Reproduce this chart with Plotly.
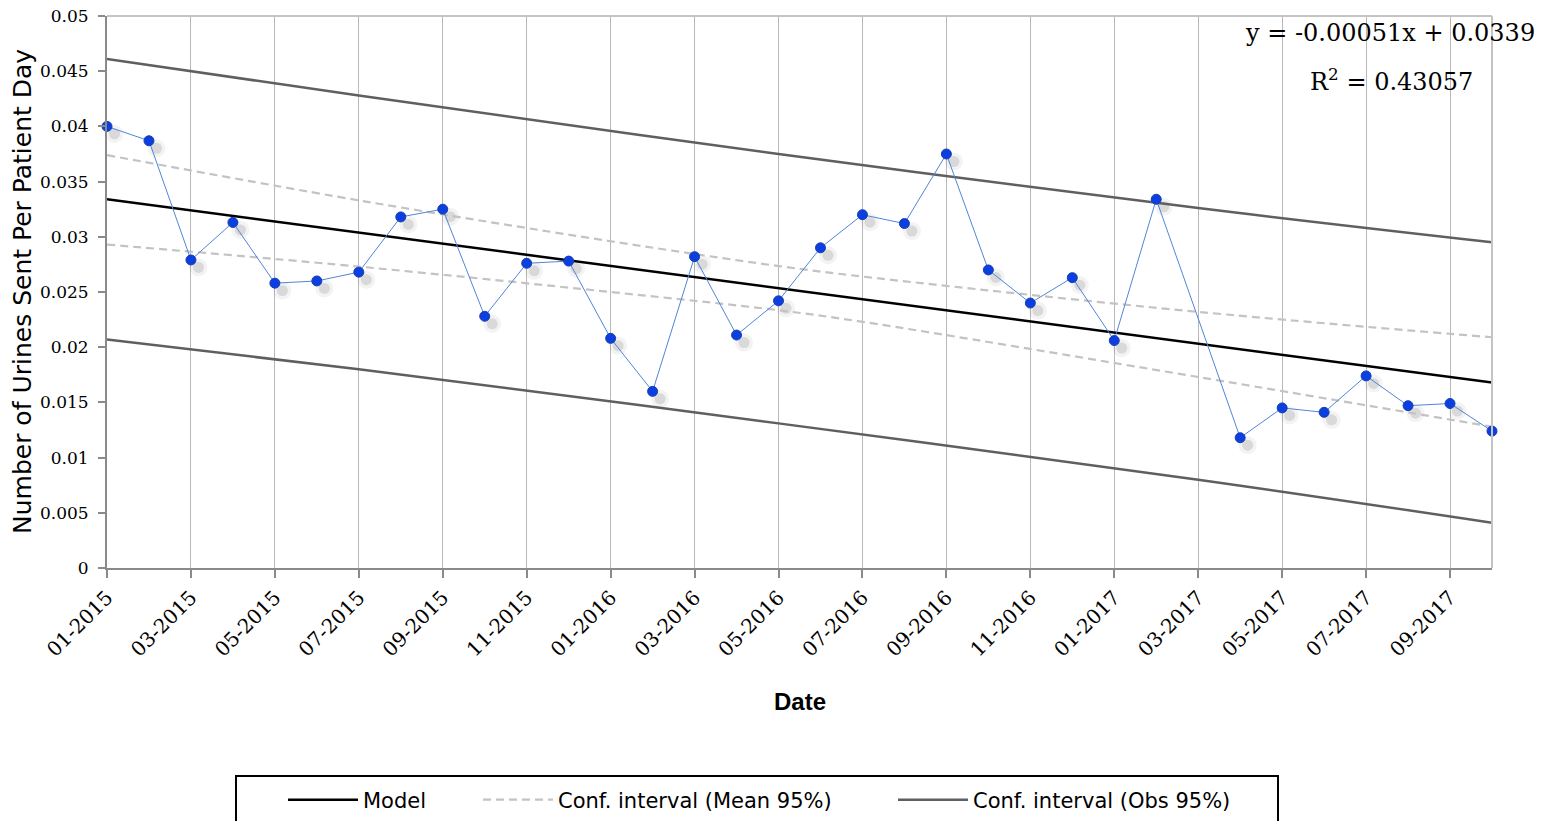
import plotly.graph_objects as go

# ---------------- data ----------------
months = ["01-2015", "02-2015", "03-2015", "04-2015", "05-2015", "06-2015",
          "07-2015", "08-2015", "09-2015", "10-2015", "11-2015", "12-2015",
          "01-2016", "02-2016", "03-2016", "04-2016", "05-2016", "06-2016",
          "07-2016", "08-2016", "09-2016", "10-2016", "11-2016", "12-2016",
          "01-2017", "02-2017", "03-2017", "04-2017", "05-2017", "06-2017",
          "07-2017", "08-2017", "09-2017", "10-2017"]

rate = [0.0400, 0.0387, 0.0279, 0.0313, 0.0258, 0.0260, 0.0268, 0.0318,
        0.0325, 0.0228, 0.0276, 0.0278,
        0.0208, 0.0160, 0.0282, 0.0211, 0.0242, 0.0290, 0.0320, 0.0312,
        0.0375, 0.0270, 0.0240, 0.0263,
        0.0206, 0.0334, None, 0.0118, 0.0145, 0.0141, 0.0174, 0.0147,
        0.0149, 0.0124]

model_months = ["01-2015", "10-2017"]
model_vals = [0.0334, 0.0168]

mean_ci_months = ["01-2015", "07-2015", "01-2016", "05-2016", "07-2016", "03-2017", "10-2017"]
mean_ci_upper = [0.0374, 0.0333, 0.0296, 0.02735, 0.0264, 0.0232, 0.0209]
mean_ci_lower = [0.0293, 0.0273, 0.0250, 0.02335, 0.0223, 0.0173, 0.0128]

obs_ci_months = ["01-2015", "07-2015", "05-2016", "03-2017", "10-2017"]
obs_ci_upper = [0.0461, 0.0428, 0.0375, 0.0326, 0.0295]
obs_ci_lower = [0.0207, 0.0180, 0.0131, 0.0080, 0.0041]

y_tick_vals = [0, 0.005, 0.01, 0.015, 0.02, 0.025, 0.03, 0.035, 0.04, 0.045, 0.05]
y_tick_text = ["0", "0.005", "0.01", "0.015", "0.02", "0.025", "0.03", "0.035", "0.04", "0.045", "0.05"]

equation_text = "y = -0.00051x + 0.0339"
r2_text = "R<sup>2</sup> = 0.43057"

# ---------------- layout geometry ----------------
W, H = 1549, 821
L, R, T, B = 107, 57, 16, 253
plot_w = W - L - R
plot_h = H - T - B

pos = {m: i for i, m in enumerate(months)}
X = [pos[m] for m in months]
x_max = len(months) - 1
y_max = 0.05

# shadow offset (pixels -> data units on the hidden primary axes)
sh_px = 7.5
sx = sh_px / (plot_w / x_max)
sy = sh_px / (plot_h / y_max)

def px_x(p):
    return (p - L) / plot_w

def px_y(p):
    return (H - B - p) / plot_h

SERIF = "DejaVu Serif"
SANS = "DejaVu Sans"

fig = go.Figure()

# marker shadows on hidden, shifted primary axes
fig.add_trace(go.Scatter(x=X, y=rate, mode="markers", xaxis="x", yaxis="y",
                         marker=dict(size=18, color="rgba(80,80,80,0.07)"),
                         showlegend=False, hoverinfo="skip", cliponaxis=False))
fig.add_trace(go.Scatter(x=X, y=rate, mode="markers", xaxis="x", yaxis="y",
                         marker=dict(size=11, color="rgba(80,80,80,0.16)"),
                         showlegend=False, hoverinfo="skip", cliponaxis=False))

# regression lines (visible overlay axes)
fig.add_trace(go.Scatter(x=[pos[m] for m in model_months], y=model_vals,
                         mode="lines", xaxis="x2", yaxis="y2",
                         line=dict(color="#000000", width=2.5),
                         name="Model", showlegend=True, legend="legend",
                         cliponaxis=False))
fig.add_trace(go.Scatter(x=[pos[m] for m in mean_ci_months], y=mean_ci_upper,
                         mode="lines", xaxis="x2", yaxis="y2",
                         line=dict(color="#C3C3C3", width=2.2, dash="8px,5px", shape="spline"),
                         name="Conf. interval (Mean 95%)", legendgroup="mean",
                         showlegend=True, legend="legend2", cliponaxis=False))
fig.add_trace(go.Scatter(x=[pos[m] for m in mean_ci_months], y=mean_ci_lower,
                         mode="lines", xaxis="x2", yaxis="y2",
                         line=dict(color="#C3C3C3", width=2.2, dash="8px,5px", shape="spline"),
                         name="Conf. interval (Mean 95%)", legendgroup="mean",
                         showlegend=False, legend="legend2", cliponaxis=False))
fig.add_trace(go.Scatter(x=[pos[m] for m in obs_ci_months], y=obs_ci_upper,
                         mode="lines", xaxis="x2", yaxis="y2",
                         line=dict(color="#5F5F5F", width=2.5, shape="spline"),
                         name="Conf. interval (Obs 95%)", legendgroup="obs",
                         showlegend=True, legend="legend3", cliponaxis=False))
fig.add_trace(go.Scatter(x=[pos[m] for m in obs_ci_months], y=obs_ci_lower,
                         mode="lines", xaxis="x2", yaxis="y2",
                         line=dict(color="#5F5F5F", width=2.5, shape="spline"),
                         name="Conf. interval (Obs 95%)", legendgroup="obs",
                         showlegend=False, legend="legend3", cliponaxis=False))

# observed data
fig.add_trace(go.Scatter(x=X, y=rate, mode="lines+markers", xaxis="x2", yaxis="y2",
                         connectgaps=True,
                         line=dict(color="#4F86D8", width=1),
                         marker=dict(size=10, color="#0B3FE0",
                                     line=dict(color="#1A3FB0", width=1)),
                         name="Urines per patient day", showlegend=False,
                         cliponaxis=False))

axis_col = "#8A8A8A"
grid_col = "#B8B8B8"

legend_common = dict(orientation="h", yanchor="middle", y=px_y(800), xanchor="left",
                     font=dict(family=SANS, size=21, color="#000000"),
                     bgcolor="rgba(0,0,0,0)", borderwidth=0, itemwidth=70)

fig.update_layout(
    width=W, height=H,
    margin=dict(l=L, r=R, t=T, b=B, autoexpand=False),
    paper_bgcolor="white", plot_bgcolor="white",
    xaxis=dict(range=[0 - sx, x_max - sx], visible=False, showgrid=False,
               zeroline=False),
    yaxis=dict(range=[0 + sy, y_max + sy], visible=False, showgrid=False,
               zeroline=False),
    xaxis2=dict(overlaying="x", anchor="y2", side="bottom",
                range=[0, x_max],
                tickmode="array", tickvals=X[::2], ticktext=months[::2],
                tickangle=-45,
                tickfont=dict(family=SERIF, size=20, color="#000000"),
                showgrid=True, gridcolor=grid_col, gridwidth=1,
                showline=True, linecolor=axis_col, linewidth=2,
                ticks="outside", ticklen=8, tickwidth=2, tickcolor=axis_col,
                zeroline=False),
    yaxis2=dict(overlaying="y", anchor="x2", side="left",
                range=[0, y_max],
                tickmode="array", tickvals=y_tick_vals, ticktext=y_tick_text,
                tickfont=dict(family=SERIF, size=17, color="#000000"),
                ticklabelstandoff=6,
                showgrid=False,
                showline=True, linecolor=axis_col, linewidth=2,
                ticks="outside", ticklen=7, tickwidth=2, tickcolor=axis_col,
                zeroline=False),
    legend=dict(legend_common, x=px_x(283)),
    legend2=dict(legend_common, x=px_x(478)),
    legend3=dict(legend_common, x=px_x(893)),
    showlegend=True,
)

# plot frame (top and right) and legend box
fig.add_shape(type="line", xref="paper", yref="paper", x0=0, x1=1, y0=1, y1=1,
              line=dict(color="#C4C4C4", width=2))
fig.add_shape(type="line", xref="paper", yref="paper", x0=1, x1=1, y0=0, y1=1,
              line=dict(color="#C4C4C4", width=2))
fig.add_shape(type="rect", xref="paper", yref="paper",
              x0=px_x(236), x1=px_x(1278), y0=px_y(776), y1=px_y(835),
              line=dict(color="#000000", width=2), fillcolor="rgba(0,0,0,0)")

fig.add_annotation(text=equation_text, xref="paper", yref="paper",
                   x=px_x(1390), y=px_y(33), xanchor="center", yanchor="middle",
                   showarrow=False, font=dict(family=SERIF, size=24, color="#000000"))
fig.add_annotation(text=r2_text, xref="paper", yref="paper",
                   x=px_x(1391), y=px_y(80), xanchor="center", yanchor="middle",
                   showarrow=False, font=dict(family=SERIF, size=24, color="#000000"))
fig.add_annotation(text="Number of Urines Sent Per Patient Day", xref="paper", yref="paper",
                   x=px_x(22), y=px_y(292), xanchor="center", yanchor="middle",
                   textangle=-90, showarrow=False,
                   font=dict(family=SANS, size=25, color="#000000"))
fig.add_annotation(text="<b>Date</b>", xref="paper", yref="paper",
                   x=px_x(800), y=px_y(701), xanchor="center", yanchor="middle",
                   showarrow=False,
                   font=dict(family="Liberation Sans", size=24, color="#000000"))

fig.write_html("out.html", config={"displayModeBar": False},
               post_script="document.body.style.margin='0px';")
